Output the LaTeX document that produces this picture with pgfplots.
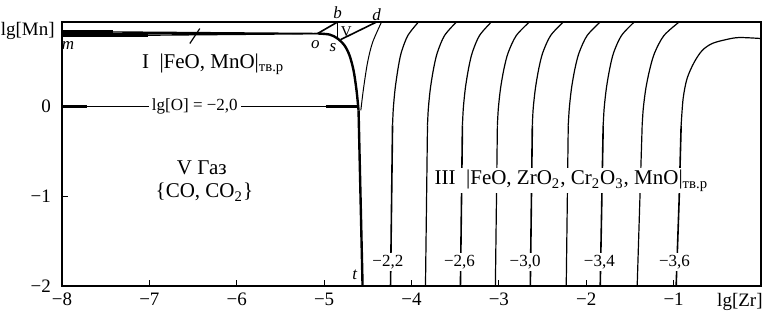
\documentclass[border=0pt]{standalone}
\usepackage{fontspec}
\setmainfont{Liberation Serif}
\usepackage{pgfplots}
\pgfplotsset{compat=1.18}
\begin{document}
\begin{tikzpicture}
\begin{axis}[name=ax, width=349.5pt, height=132pt, scale only axis,
  xmin=-8, xmax=0, ymin=-2, ymax=0.94,
  xtick={-8,-7,-6,-5,-4,-3,-2,-1}, xticklabels={−8,−7,−6,−5,−4,−3,−2,−1},
  ytick={-2,-1,0}, yticklabels={−2,−1,0},
  tick align=inside, xtick pos=left, ytick pos=left,
  major tick length=3pt,
  tick style={black, line width=0.6pt},
  axis line style={line width=0.9pt},
  ticklabel style={font=\fontsize{9.5}{11}\selectfont},
  yticklabel style={xshift=-2pt},
  clip=false]
% horizontal bundle m--o
\addplot[black, line width=0.7pt] coordinates {(-8,0.833) (-5.074,0.812)};
\addplot[black, line width=0.7pt] coordinates {(-8,0.811) (-5.074,0.811)};
\addplot[black, line width=0.7pt] coordinates {(-8,0.785) (-5.074,0.810)};
\addplot[black, line width=3.2pt] coordinates {(-8,0.81) (-7.42,0.81)};
\addplot[black, line width=2pt] coordinates {(-7.42,0.80) (-7.02,0.80)};
\addplot[black, line width=0.6pt] coordinates {(-6.537,0.70) (-6.423,0.867)};
% o -- s -- t thick curve
\addplot[black, line width=1.2pt, smooth] coordinates {(-5.074,0.812) (-4.937,0.80) (-4.846,0.756) (-4.766,0.678) (-4.709,0.567) (-4.663,0.40) (-4.629,0.178) (-4.606,-0.044)};
\addplot[black, line width=1.2pt] coordinates {(-4.606,-0.044) (-4.56,-2)};
% o--b, vertical at b, s--d
\addplot[black, line width=0.8pt] coordinates {(-5.074,0.812) (-4.846,0.94)};
\addplot[black, line width=0.8pt] coordinates {(-4.846,0.94) (-4.846,0.77)};
\addplot[black, line width=0.8pt] coordinates {(-4.811,0.744) (-4.40,0.94)};
% lg[O] = -2,0 line
\addplot[black, line width=0.6pt] coordinates {(-8,0) (-4.60,0)};
\addplot[black, line width=1.3pt] coordinates {(-8,0) (-7.71,0)};
\addplot[black, line width=1.3pt] coordinates {(-4.98,0) (-4.60,0)};
% curve from d
\addplot[black, line width=0.5pt, smooth] coordinates {(-4.343,0.94) (-4.446,0.711) (-4.503,0.489) (-4.549,0.2) (-4.58,-0.044)};
% right-hand family
\addplot[black, line width=0.6pt, smooth] coordinates {(-3.92,0.94) (-4.042,0.789) (-4.117,0.6) (-4.154,0.422) (-4.187,0.2) (-4.208,-0.022) (-4.217,-0.211)};
\addplot[black, line width=0.8pt] coordinates {(-4.217,-0.211) (-4.24,-2)};
\addplot[black, line width=0.6pt, smooth] coordinates {(-3.486,0.94) (-3.622,0.789) (-3.704,0.6) (-3.747,0.422) (-3.784,0.2) (-3.807,-0.022) (-3.817,-0.211)};
\addplot[black, line width=0.6pt] coordinates {(-3.817,-0.211) (-3.84,-2)};
\addplot[black, line width=0.6pt, smooth] coordinates {(-3.086,0.94) (-3.222,0.789) (-3.304,0.6) (-3.347,0.422) (-3.384,0.2) (-3.407,-0.022) (-3.417,-0.211)};
\addplot[black, line width=0.8pt] coordinates {(-3.417,-0.211) (-3.44,-2)};
\addplot[black, line width=0.6pt, smooth] coordinates {(-2.651,0.94) (-2.801,0.789) (-2.893,0.6) (-2.941,0.422) (-2.981,0.2) (-3.006,-0.022) (-3.017,-0.211)};
\addplot[black, line width=0.6pt] coordinates {(-3.017,-0.211) (-3.04,-2)};
\addplot[black, line width=0.6pt, smooth] coordinates {(-2.263,0.94) (-2.408,0.789) (-2.497,0.6) (-2.543,0.422) (-2.582,0.2) (-2.607,-0.022) (-2.617,-0.211)};
\addplot[black, line width=0.8pt] coordinates {(-2.617,-0.211) (-2.64,-2)};
\addplot[black, line width=0.6pt, smooth] coordinates {(-1.84,0.94) (-1.99,0.789) (-2.081,0.6) (-2.129,0.422) (-2.169,0.2) (-2.194,-0.022) (-2.206,-0.211)};
\addplot[black, line width=0.6pt] coordinates {(-2.206,-0.211) (-2.229,-2)};
\addplot[black, line width=0.6pt, smooth] coordinates {(-1.451,0.94) (-1.597,0.789) (-1.686,0.6) (-1.731,0.422) (-1.77,0.2) (-1.795,-0.022) (-1.806,-0.211)};
\addplot[black, line width=0.8pt] coordinates {(-1.806,-0.211) (-1.84,-2)};
\addplot[black, line width=0.6pt, smooth] coordinates {(-0.937,0.94) (-1.111,0.789) (-1.216,0.6) (-1.271,0.422) (-1.318,0.2) (-1.347,-0.022) (-1.36,-0.211)};
\addplot[black, line width=0.6pt] coordinates {(-1.36,-0.211) (-1.417,-2)};
\addplot[black, line width=0.6pt, smooth] coordinates {(0,0.756) (-0.251,0.767) (-0.4,0.744) (-0.56,0.70) (-0.674,0.622) (-0.766,0.489) (-0.846,0.311) (-0.891,0.089) (-0.914,-0.211)};
\addplot[black, line width=0.8pt] coordinates {(-0.914,-0.211) (-0.937,-1.044) (-0.971,-2)};
% labels
\node[fill=white, inner sep=1.5pt, font=\fontsize{8.5}{10}\selectfont] at (axis cs:-6.48,0) {lg[O] = −2,0};
\node[anchor=base, font=\fontsize{10.5}{12}\selectfont] at (axis cs:-6.27,0.42) {I\enspace|FeO, MnO|\textsubscript{тв.р}};
\node[anchor=base, font=\fontsize{10.5}{12}\selectfont] at (axis cs:-6.40,-0.763) {V Газ};
\node[anchor=base, font=\fontsize{10.5}{12}\selectfont] at (axis cs:-6.37,-1.02) {\{CO, CO\textsubscript{2}\}};
\node[anchor=base, fill=white, inner sep=1pt, font=\fontsize{10.5}{12}\selectfont] at (axis cs:-2.17,-0.875) {III\enspace|FeO, ZrO\textsubscript{2}, Cr\textsubscript{2}O\textsubscript{3}, MnO|\textsubscript{тв.р}};
\node[fill=white, inner sep=1pt, font=\fontsize{8.5}{10}\selectfont] at (axis cs:-4.27,-1.73) {−2,2};
\node[fill=white, inner sep=1pt, font=\fontsize{8.5}{10}\selectfont] at (axis cs:-3.45,-1.73) {−2,6};
\node[fill=white, inner sep=1pt, font=\fontsize{8.5}{10}\selectfont] at (axis cs:-2.70,-1.73) {−3,0};
\node[fill=white, inner sep=1pt, font=\fontsize{8.5}{10}\selectfont] at (axis cs:-1.85,-1.73) {−3,4};
\node[fill=white, inner sep=1pt, font=\fontsize{8.5}{10}\selectfont] at (axis cs:-0.99,-1.73) {−3,6};
\node[font=\fontsize{8.5}{10}\selectfont\itshape] at (axis cs:-7.93,0.68) {m};
\node[font=\fontsize{8.5}{10}\selectfont\itshape] at (axis cs:-5.10,0.69) {o};
\node[font=\fontsize{8.5}{10}\selectfont\itshape] at (axis cs:-4.90,0.656) {s};
\node[font=\fontsize{8.5}{10}\selectfont\itshape] at (axis cs:-4.846,1.04) {b};
\node[font=\fontsize{8.5}{10}\selectfont\itshape] at (axis cs:-4.40,1.02) {d};
\node[font=\fontsize{7.5}{9}\selectfont] at (axis cs:-4.745,0.83) {V};
\node[font=\fontsize{8.5}{10}\selectfont\itshape] at (axis cs:-4.65,-1.88) {t};
\node[anchor=north east, inner sep=0pt, xshift=-3.5pt, font=\fontsize{9.5}{11}\selectfont] at (rel axis cs:0,1) {lg[Mn]};
\node[anchor=north east, inner sep=0pt, xshift=1pt, yshift=-3.5pt, font=\fontsize{9.5}{11}\selectfont] at (rel axis cs:1,0) {lg[Zr]};
\end{axis}
\pgfresetboundingbox
\path ([xshift=-31pt,yshift=-14.5pt]ax.south west) rectangle ([xshift=2.5pt,yshift=11pt]ax.north east);
\end{tikzpicture}
\end{document}
